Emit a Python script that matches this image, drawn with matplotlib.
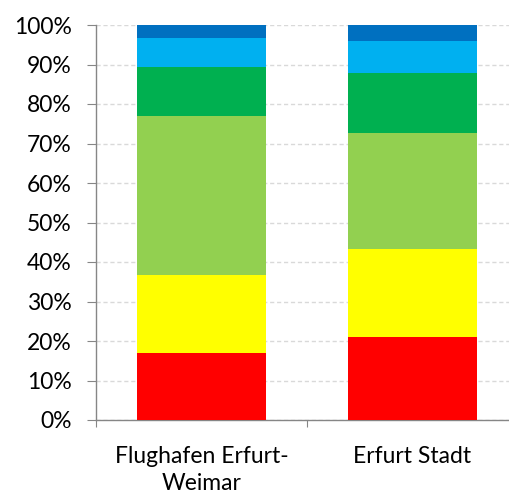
import matplotlib
matplotlib.use("Agg")
import matplotlib.pyplot as plt
import numpy as np
from matplotlib.ticker import FuncFormatter, MultipleLocator

categories = ["Flughafen Erfurt-\nWeimar", "Erfurt Stadt"]
red = [17.0, 21.0]
yellow = [19.7, 22.2]
lightgreen = [40.3, 29.5]
green = [12.4, 15.2]
lightblue = [7.4, 8.1]
darkblue = [3.2, 4.0]
series = [red, yellow, lightgreen, green, lightblue, darkblue]
colors = ["#FF0000", "#FFFF00", "#92D050", "#00B050", "#00B0F0", "#0070C0"]

plt.rcParams['font.family'] = ['Lato', 'DejaVu Sans']

W, H = 509, 495
fig = plt.figure(figsize=(W/100, H/100), dpi=100)
ax = fig.add_axes([96/W, 1-420/H, 422/W, 395/H])

x = np.arange(len(categories))
bottom = np.zeros(len(categories))
for vals, c in zip(series, colors):
    vals = np.array(vals)
    ax.bar(x, vals, bottom=bottom, width=0.616, color=c, zorder=3)
    bottom += vals

ax.set_xlim(-0.5, 1.5)
ax.set_ylim(0, 100)
ax.yaxis.set_major_locator(MultipleLocator(10))
ax.yaxis.set_major_formatter(FuncFormatter(lambda v, p: f"{int(round(v))}%"))
ax.grid(axis='y', color='#D9D9D9', linestyle=(0, (3, 2)), linewidth=1, zorder=0)
ax.set_xticks([-0.5, 0.5, 1.5], minor=False)
ax.set_xticklabels(["", "", ""])
ax.set_xticks(x, minor=True)
ax.set_xticklabels(categories, minor=True, fontsize=16.5, color='#000000', linespacing=1.35)
ax.tick_params(axis='x', which='minor', length=0, pad=18.5)
ax.tick_params(axis='x', which='major', length=5, color='#868686', direction='out')
ax.tick_params(axis='y', length=6.5, color='#868686', labelsize=16.5, pad=11, labelcolor='#000000')
for s in ['top', 'right']:
    ax.spines[s].set_visible(False)
for s in ['left', 'bottom']:
    ax.spines[s].set_color('#868686')
    ax.spines[s].set_linewidth(1)

fig.savefig("out.png", dpi=100)
